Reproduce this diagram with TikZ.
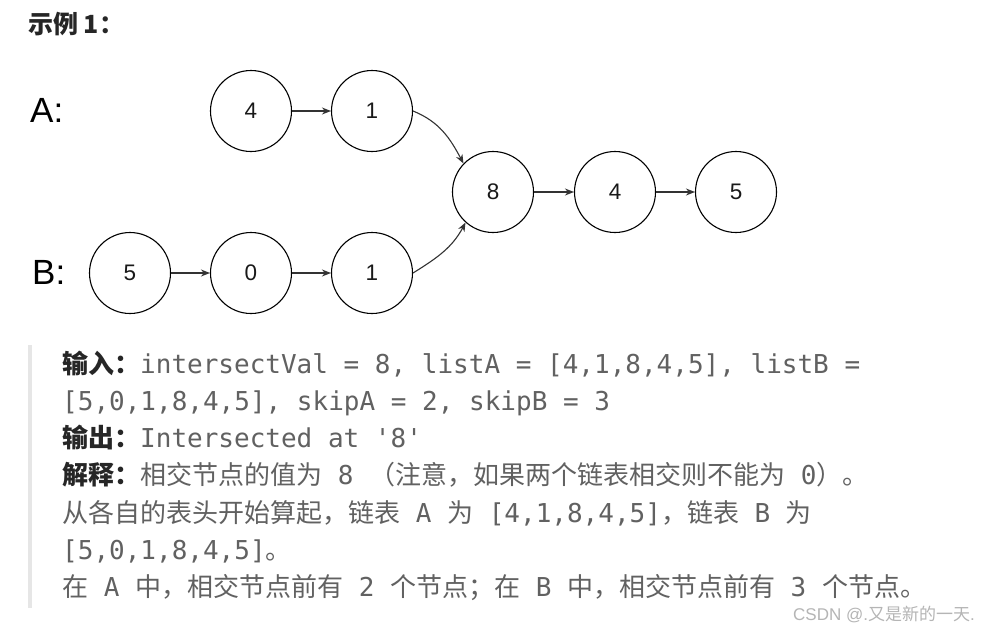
\documentclass[tikz,border=0pt]{standalone}
\usepackage{fontspec}
\usetikzlibrary{arrows.meta}
\newfontfamily\arialf{Liberation Sans}
\newfontfamily\monof{DejaVu Sans Mono}
\newfontfamily\cjkf{Noto Sans CJK SC}
\definecolor{bodygray}{HTML}{616161}
\definecolor{labeldark}{HTML}{262626}
\definecolor{bargray}{HTML}{E6E6E6}
\definecolor{markgray}{HTML}{B5B5B5}
\definecolor{arrowgray}{HTML}{333333}
\newcommand\zh[1]{{\cjkf #1}}
\newcommand\lab[1]{{\cjkf\bfseries\color{labeldark}#1}}
\tikzset{
  lnode/.style={circle, draw=black, line width=1.1pt, minimum size=81pt, inner sep=0pt,
    font=\arialf\fontsize{22.5}{26}\selectfont, text=black!90},
  arr/.style={draw=arrowgray, line width=1.1pt, -{Stealth[length=9pt,width=7pt]}},
  listlabel/.style={anchor=base west, inner sep=0pt, font=\arialf\fontsize{35}{38}\selectfont, text=black},
  bodyline/.style={anchor=base west, inner sep=0pt, font=\monof\fontsize{26}{30}\selectfont, text=bodygray}
}
\begin{document}
\begin{tikzpicture}[x=1pt,y=1pt]
\fill[white] (0,0) rectangle (992,-632);
\useasboundingbox (0,0) rectangle (992,-632);
% title
\node[anchor=base west, inner sep=0pt, font=\cjkf\bfseries\fontsize{25}{28}\selectfont, text=labeldark] (title) at (28,-33) {示例 1：};
% list labels
\node[listlabel] (labA) at (30,-122) {A:};
\node[listlabel] (labB) at (32,-284) {B:};
% nodes
\node[lnode] (a4) at (251,-111) {4};
\node[lnode] (a1) at (372,-111) {1};
\node[lnode] (n8) at (493,-192) {8};
\node[lnode] (n4) at (615,-192) {4};
\node[lnode] (n5) at (736,-192) {5};
\node[lnode] (b5) at (130,-273) {5};
\node[lnode] (b0) at (251,-273) {0};
\node[lnode] (b1) at (372,-273) {1};
% connectors
\draw[arr] (a4) -- (a1);
\draw[arr] (b5) -- (b0);
\draw[arr] (b0) -- (b1);
\draw[arr] (n8) -- (n4);
\draw[arr] (n4) -- (n5);
\draw[arr] (a1.east) to[out=-22, in=118] (n8.136);
\draw[arr] (b1.east) to[out=32, in=-118] (n8.228);
% quote bar
\fill[bargray] (28,-345) rectangle (32,-608);
% text lines
\node[bodyline] (l1) at (62,-373) {\lab{输入：}intersectVal = 8, listA = [4,1,8,4,5], listB =};
\node[bodyline] (l2) at (62,-410.3) {[5,0,1,8,4,5], skipA = 2, skipB = 3};
\node[bodyline] (l3) at (62,-447.6) {\lab{输出：}Intersected at \char39 8\char39};
\node[bodyline] (l4) at (62,-484.9) {\lab{解释：}\zh{相交节点的值为} 8 \zh{（注意，如果两个链表相交则不能为} 0\zh{）。}};
\node[bodyline] (l5) at (62,-522.2) {\zh{从各自的表头开始算起，链表} A \zh{为} [4,1,8,4,5]\zh{，链表} B \zh{为}};
\node[bodyline] (l6) at (62,-559.5) {[5,0,1,8,4,5]\zh{。}};
\node[bodyline] (l7) at (62,-596.8) {\zh{在} A \zh{中，相交节点前有} 2 \zh{个节点；在} B \zh{中，相交节点前有} 3 \zh{个节点。}};
% watermark
\node[anchor=base west, inner sep=0pt, text=markgray, font=\arialf\fontsize{17}{20}\selectfont] (mark) at (793,-620) {CSDN @.\zh{又是新的一天}.};
\end{tikzpicture}
\end{document}
